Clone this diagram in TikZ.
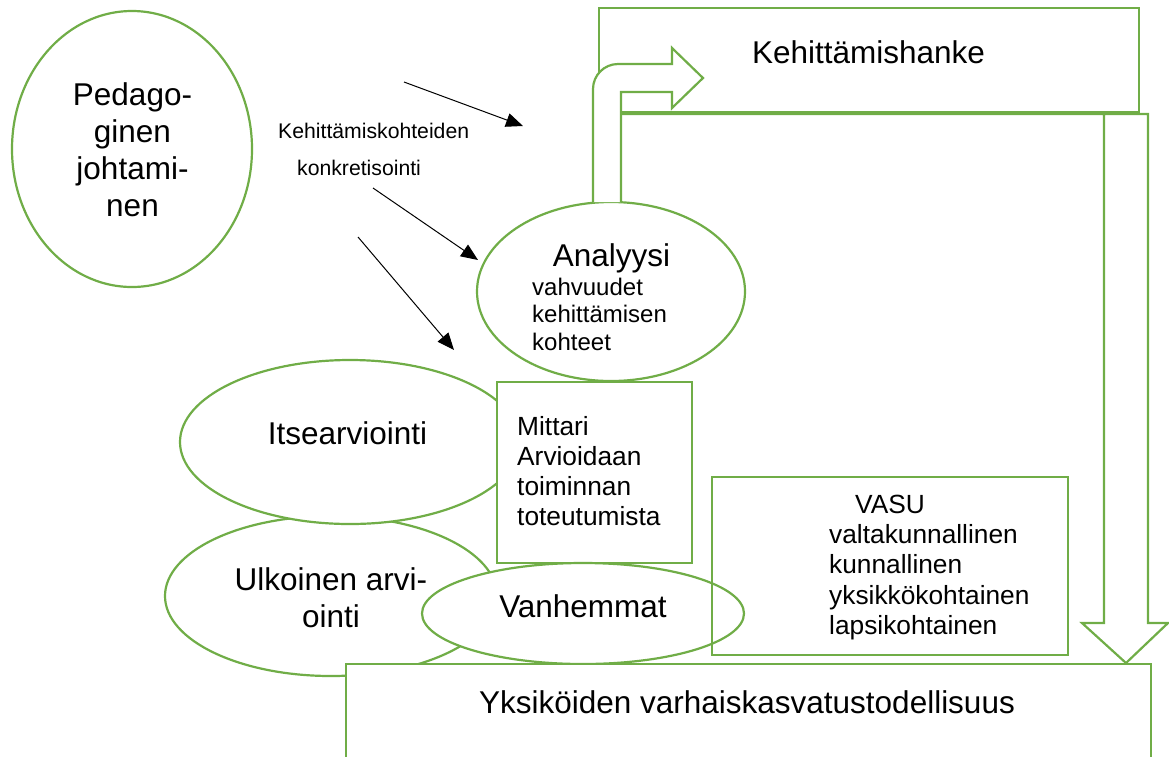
\documentclass[tikz,border=0pt]{standalone}
\usepackage{fontspec}
\setmainfont{Liberation Sans}
\usetikzlibrary{shapes.geometric,arrows.meta}
\definecolor{gr}{RGB}{112,173,71}
\begin{document}
\begin{tikzpicture}[x=1pt,y=-1pt,
  shp/.style={draw=gr, line width=2.2pt, fill=white, inner sep=0pt, outer sep=0pt},
  ell/.style={shp, ellipse},
  box/.style={shp, rectangle, anchor=north west},
  txt/.style={inner sep=0pt, anchor=base, text=black},
  fbig/.style={font=\fontsize{31.5}{37}\selectfont},
  fmid/.style={font=\fontsize{26.3}{30.3}\selectfont},
  fsm/.style={font=\fontsize{24}{27.5}\selectfont},
  fxs/.style={font=\fontsize{21.2}{25}\selectfont},
  conn/.style={draw=black, line width=1pt, -{Triangle[length=17pt,width=14pt]}},
  garrow/.style={draw=gr, line width=2.2pt, line join=miter}
]
\useasboundingbox (0,0) rectangle (1169,756);
\begin{scope}
\clip (0,0) rectangle (1169,756);
\node[ell, minimum width=332, minimum height=160] (ulk) at (331,596) {};
\node[ell, minimum width=340, minimum height=164] (its) at (350,442) {};
\node[ell, minimum width=268, minimum height=179] (ana) at (611,291.5) {};
\node[box, minimum width=195, minimum height=181] (mit) at (497,382) {};
\node[ell, minimum width=322, minimum height=101] (van) at (583,613.5) {};
\node[box, minimum width=805, minimum height=120] (yks) at (346,664) {};
\node[box, fill=none, minimum width=356, minimum height=178] (vasu) at (712,477) {};
\node[box, minimum width=540, minimum height=104] (keh) at (599,8) {};
% bent arrow up and right
\filldraw[garrow, fill=white] (593,202) -- (593,89) .. controls (593,75.2) and (604.2,64) .. (618,64)
  -- (672,64) -- (672,48) -- (703,78) -- (672,108) -- (672,92) -- (621,92) -- (621,202);
% bent arrow right and down
\draw[garrow] (621,114) -- (1148,114) -- (1148,623) -- (1168,623) -- (1126,663)
  -- (1082,623) -- (1104,623) -- (1104,114);
\node[ell, minimum width=240, minimum height=276] (ped) at (132,149) {};
\end{scope}
% texts
\node[txt, fbig] (pedt) at (132.5,105) {\begin{tabular}[t]{@{}c@{}}Pedago-\\ginen\\johtami-\\nen\end{tabular}};
\node[txt, fxs, anchor=base west] (kk1) at (278,138) {Kehittämiskohteiden};
\node[txt, fxs, anchor=base west] (kk2) at (297,175) {konkretisointi};
\node[txt, fbig] (anat) at (611.5,266) {Analyysi};
\node[txt, fsm, anchor=base west] (anal) at (532,295) {\begin{tabular}[t]{@{}l@{}}vahvuudet\\kehittämisen\\kohteet\end{tabular}};
\node[txt, fmid, anchor=base west] (mitt) at (517,435) {\begin{tabular}[t]{@{}l@{}}Mittari\\Arvioidaan\\toiminnan\\toteutumista\end{tabular}};
\node[txt, fbig] (itst) at (347.5,444) {Itsearviointi};
\node[txt, fbig] (ulkt) at (331,590) {\begin{tabular}[t]{@{}c@{}}Ulkoinen arvi-\\ointi\end{tabular}};
\node[txt, fbig] (vant) at (583,617) {Vanhemmat};
\node[txt, fmid] (vasut) at (890,513) {VASU};
\node[txt, fmid, anchor=base west] (vasul) at (829,543.5) {\begin{tabular}[t]{@{}l@{}}valtakunnallinen\\kunnallinen\\yksikkökohtainen\\lapsikohtainen\end{tabular}};
\node[txt, fbig] (keht) at (868.5,63) {Kehittämishanke};
\node[txt, fbig] (yksT) at (747,713) {Yksiköiden varhaiskasvatustodellisuus};
% black arrows
\coordinate (a1s) at (404,82);  \coordinate (a1e) at (523,126);
\coordinate (a2s) at (373,188); \coordinate (a2e) at (478,260);
\coordinate (a3s) at (358,237); \coordinate (a3e) at (454,350);
\draw[conn] (a1s) -- (a1e);
\draw[conn] (a2s) -- (a2e);
\draw[conn] (a3s) -- (a3e);
\end{tikzpicture}
\end{document}
